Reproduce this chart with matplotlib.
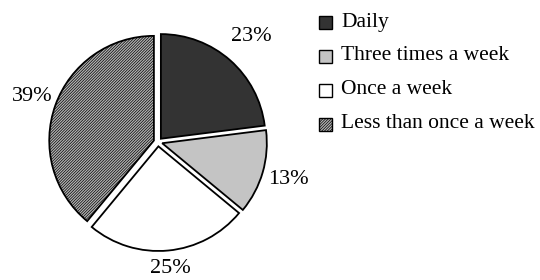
import matplotlib
matplotlib.use("Agg")
import matplotlib.pyplot as plt
import numpy as np
from matplotlib.patches import Rectangle

categories = ["Daily", "Three times a week", "Once a week", "Less than once a week"]
values = [23, 13, 25, 39]
labels = ["23%", "13%", "25%", "39%"]

colors = ["#333333", "#c4c4c4", "#ffffff", "#b4b4b4"]
hatches = [None, None, None, "////////////"]

plt.rcParams["font.family"] = ["Liberation Serif", "DejaVu Serif"]
plt.rcParams["hatch.color"] = "#8a8a8a"
plt.rcParams["hatch.linewidth"] = 0.5

W, H = 540, 280
fig = plt.figure(figsize=(W / 100, H / 100), dpi=100)
cx, cy_top, R = 158, 142, 109
cy = H - cy_top
ax = fig.add_axes([(cx - R) / W, (cy - R) / H, 2 * R / W, 2 * R / H])

wedges, _ = ax.pie(values, colors=colors, startangle=90, counterclock=False,
                   explode=[0.04] * 4, radius=0.96, center=(0, 0),
                   wedgeprops=dict(edgecolor="black", linewidth=1.3))
for w, h in zip(wedges, hatches):
    if h:
        w.set_hatch(h)
ax.set_xlim(-1, 1)
ax.set_ylim(-1, 1)
ax.set_aspect("equal")
ax.axis("off")

# percentage labels at each wedge's mid angle
label_dist = [1.29, 1.245, 1.165, 1.23]
for w, lab, d in zip(wedges, labels, label_dist):
    a = np.deg2rad((w.theta1 + w.theta2) / 2)
    ax.text(d * np.cos(a), d * np.sin(a), lab, ha="center", va="center",
            fontsize=16, clip_on=False)

# legend
ys = [22, 56, 90, 124]
for cat, col, h, y in zip(categories, colors, hatches, ys):
    fig.patches.append(Rectangle((319 / W, 1 - (y + 6.5) / H), 13 / W, 13 / H,
                                 transform=fig.transFigure, facecolor=col,
                                 edgecolor="black", linewidth=1.0, hatch=h))
    fig.text(341 / W, 1 - y / H, cat, ha="left", va="center", fontsize=15.5)

fig.savefig("out.png", dpi=100)
